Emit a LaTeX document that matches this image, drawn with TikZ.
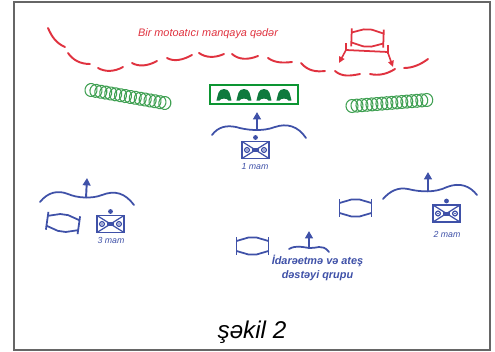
\documentclass[tikz,border=0pt]{standalone}
\usepackage{fontspec}
\setmainfont{Liberation Sans}
\usetikzlibrary{arrows.meta}
\definecolor{redc}{HTML}{E0323F}
\definecolor{greenc}{HTML}{3FA052}
\definecolor{darkg}{HTML}{0F7A3E}
\definecolor{bluec}{HTML}{3F51A8}
\tikzset{
 redline/.style={draw=redc,line width=1.1pt,line cap=round},
 blueline/.style={draw=bluec,line width=1.0pt,line cap=round},
 thin blue/.style={draw=bluec,line width=0.7pt},
 arrowb/.style={draw=bluec,line width=1.1pt,-{Triangle[length=4.2pt,width=4.4pt]}},
 arrowr/.style={draw=redc,line width=0.9pt,-{Triangle[length=3.5pt,width=3.2pt]}},
 coil/.style={draw=greenc,line width=0.6pt},
 lab/.style={text=bluec,font=\itshape\fontsize{5}{6}\selectfont,inner sep=0pt,align=center},
 labb/.style={text=bluec,font=\itshape\bfseries\fontsize{6.2}{8}\selectfont,inner sep=0pt,align=center},
}
\newcommand{\tankico}[2]{%
 \begin{scope}[shift={(#1,#2)}]
  \draw[thin blue] (-13.5,-8.5) rectangle (13.5,8.5);
  \draw[thin blue] (-13.5,-8.5) -- (13.5,8.5) (-13.5,8.5) -- (13.5,-8.5);
  \fill[bluec] (-3.5,-2) rectangle (3.5,2);
  \draw[thin blue,fill=white] (-8.5,0) circle (2.4) (8.5,0) circle (2.4);
  \fill[bluec] (-8.5,0) circle (.8) (8.5,0) circle (.8);
  \fill[bluec] (0,-12.5) circle (2.4);
 \end{scope}}
\newcommand{\hexico}[4][bluec]{%
 \begin{scope}[shift={(#2,#3)},rotate=#4]
  \draw[draw=#1,line width=1.0pt] (-16,-9) -- (-16,9) (16,-9) -- (16,9);
  \draw[draw=#1,line width=1.0pt,miter limit=2] (-16,-5) -- (-4,-8.5) -- (4,-8.5) -- (16,-5) (-16,5) -- (-4,8.5) -- (4,8.5) -- (16,5);
 \end{scope}}
\newcommand{\coilrow}[5]{%
 \begin{scope}[shift={(#1,#2)},rotate=#3]
  \foreach \i in {0,...,#4} \draw[coil] (\i*#5,0) ellipse (6 and 6.5);
 \end{scope}}
\newcommand{\troop}[2]{%
 \begin{scope}[shift={(#1,#2)}]
  \fill[darkg] (-7.5,5.5) .. controls (-6,0) and (-6,-6) .. (0,-6) .. controls (6,-6) and (6,0) .. (7.5,5.5) -- (4.5,5.5) .. controls (4,3) and (-4,3) .. (-4.5,5.5) -- cycle;
 \end{scope}}
\begin{document}
\begin{tikzpicture}[x=0.02cm,y=-0.02cm]
\useasboundingbox (0,0) rectangle (495,352);
\fill[white] (0,0) rectangle (495,352);
\draw[draw=black!60,line width=0.9pt] (14,2) rectangle (490,350);
% red dashes
\draw[redline] (48,28) .. controls (52,37) and (56,43) .. (65,47);
\draw[redline] (68,53) .. controls (73,60) and (80,64) .. (90,64);
\draw[redline] (98,68) .. controls (105,72) and (114,72) .. (123,67);
\draw[redline] (132,63) .. controls (139,67) and (148,66) .. (157,61);
\draw[redline] (167,58) .. controls (174,62) and (183,60) .. (192,55);
\draw[redline] (199,53) .. controls (206,58) and (215,58) .. (224,54);
\draw[redline] (232,54) .. controls (239,60) and (248,60) .. (258,56);
\draw[redline] (268,58) .. controls (275,63) and (283,63) .. (292,62);
\draw[redline] (301,63) .. controls (308,71) and (316,72) .. (325,71);
\draw[redline] (335,71) .. controls (342,77) and (350,76) .. (360,74);
\draw[redline] (370,74) .. controls (379,76) and (387,74) .. (395,69);
\draw[redline] (404,68) .. controls (412,68) and (420,65) .. (428,59);
\node[text=redc,font=\itshape\fontsize{6.2}{7}\selectfont,inner sep=0pt] (redt) at (208,34) {Bir motoatıcı manqaya qədər};
\hexico[redc]{367.5}{38}{-2}
\draw[draw=redc,line width=1.0pt] (346,43) -- (346,51) (388,45) -- (388,54);
\draw[draw=redc,line width=1.0pt] (346,50) -- (388,52);
\draw[arrowr] (346,50) -- (339,63);
\draw[arrowr] (388,53) -- (393,67);
% coils
\coilrow{91}{90}{-10}{15}{5}
\coilrow{352}{106}{4.6}{15}{5}
% platoon box
\draw[draw=darkg!80!green,line width=1.0pt] (210,85) rectangle (298,104);
\troop{224}{95}\troop{244}{95}\troop{264}{95}\troop{284}{95}
% 1 mam
\draw[blueline] (212,135) .. controls (218,127) and (226,125) .. (236,127) .. controls (246,130) and (262,132) .. (275,127) .. controls (287,123) and (298,126) .. (306,138);
\draw[arrowb] (257,130) -- (257,112);
\tankico{255.5}{150}
\node[lab] (l1) at (255,167) {1 mam};
% 3 mam
\draw[blueline] (40,202) .. controls (48,192) and (58,190) .. (68,194) .. controls (77,198) and (92,199) .. (102,195) .. controls (115,190) and (125,193) .. (134,205);
\draw[arrowb] (86,198) -- (87,178);
\hexico{63}{223}{-8}
\tankico{110.5}{224}
\node[lab] (l3) at (111,240) {3 mam};
% 2 mam
\draw[blueline] (383,199) .. controls (390,191) and (398,187) .. (408,189) .. controls (420,192) and (435,193) .. (447,187) .. controls (460,182) and (470,186) .. (477,195);
\draw[arrowb] (428,192) -- (428,172);
\hexico{355.5}{208}{0}
\tankico{446.5}{213.5}
\node[lab] (l2) at (447,234) {2 mam};
% group
\hexico{252.5}{246}{0}
\draw[blueline] (289,249) .. controls (296,245) and (302,247) .. (309,248) .. controls (316,249) and (322,243) .. (329,252);
\draw[arrowb] (309,248) -- (309,231);
\node[labb] (lg) at (317.5,268) {İdarəetmə və ateş\\dəstəyi qrupu};
\node[font=\itshape\fontsize{13.8}{15}\selectfont,inner sep=0pt] (cap) at (252,332) {şəkil 2};
\end{tikzpicture}
\end{document}
